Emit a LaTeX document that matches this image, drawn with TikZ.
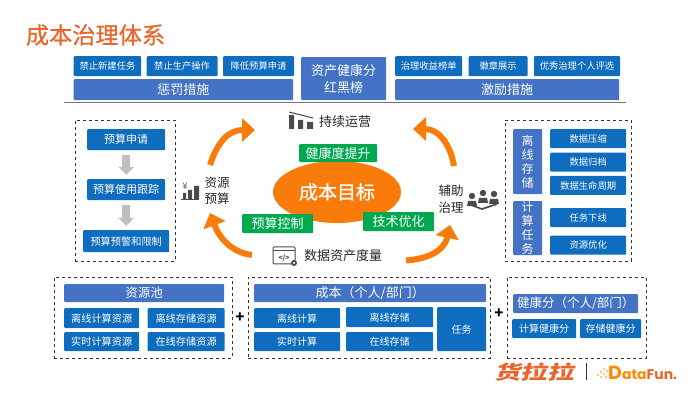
\documentclass[tikz,border=0pt]{standalone}
\usepackage{fontspec}
\setmainfont{Noto Sans CJK SC}
\newfontfamily\heavyfont[FakeBold=0.6]{Noto Sans CJK SC}
\newfontfamily\logofont[FakeSlant=0.25,FakeStretch=1.4]{Noto Sans CJK SC}
\newfontfamily\funfont{Poppins}
\usepackage{tikz}
\usetikzlibrary{shapes.geometric, arrows.meta, positioning}
\definecolor{chipblue}{HTML}{0F6DBF}
\definecolor{bandblue}{HTML}{4472C4}
\definecolor{taggreen}{HTML}{00A84F}
\definecolor{goalorange}{HTML}{F97C0A}
\definecolor{titleorange}{HTML}{E8652B}
\definecolor{icongrey}{HTML}{4A4A4A}

\begin{document}
\begin{tikzpicture}[
    x=1pt, y=-1pt,
    chip/.style={fill=chipblue, text=white, inner sep=0pt, rounded corners=1pt, align=center,
                 anchor=north west, minimum height=20pt, font=\fontsize{9.3}{11}\selectfont},
    band/.style={fill=bandblue, text=white, inner sep=0pt, rounded corners=1pt, align=center,
                 anchor=north west, minimum height=21pt, font=\fontsize{13}{17}\selectfont},
    tag/.style={fill=taggreen, text=white, inner sep=0pt, rounded corners=1pt, anchor=north west,
                minimum height=19pt, font=\fontsize{13}{15}\selectfont},
    frame/.style={draw=black!80, dashed, line width=0.8pt, inner sep=0pt, anchor=north west},
    caption/.style={inner sep=0pt, text=black!85, align=center, font=\fontsize{13}{17}\selectfont},
    plus/.style={inner sep=0pt, font=\fontsize{15}{15}\selectfont\bfseries},
    flow/.style={-{Triangle[width=15pt, length=8pt]}, line width=8pt, black!25, shorten >=4pt, shorten <=5pt},
    orbit/.style={-{Triangle[width=23pt, length=13pt]}, line width=6pt, goalorange}
]
    \useasboundingbox (0,0) rectangle (696,403);

    \node[inner sep=0pt, text=titleorange, font=\heavyfont\fontsize{23.2}{25}\selectfont] (title) at (95.5,35) {成本治理体系};

    % top row
    \node[chip, minimum width=67.5pt] (newtask) at (73.5,56) {禁止新建任务};
    \node[chip, right=5pt of newtask, minimum width=71pt] (halt) {禁止生产操作};
    \node[chip, right=5pt of halt, minimum width=71pt] (lower) {降低预算申请};
    \node[band, minimum width=219.5pt] (penalty) at (73.5,79) {惩罚措施};
    \node[band, minimum width=85pt, minimum height=43pt] (rank) at (301,57) {资产健康分\\红黑榜};
    \node[chip, minimum width=67pt] (gain) at (395,56) {治理收益榜单};
    \node[chip, right=6pt of gain, minimum width=59pt] (badge) {徽章展示};
    \node[chip, right=6pt of badge, minimum width=86pt] (star) {优秀治理个人评选};
    \node[band, minimum width=224pt] (reward) at (395,79) {激励措施};
    \draw[black!55, line width=1pt] (64,102.5) -- (626,102.5);

    % budget flow
    \node[frame, minimum width=100pt, minimum height=141pt] (budgetframe) at (75,120) {};
    \node[chip, minimum width=78pt, minimum height=21pt, font=\fontsize{11}{13}\selectfont] (apply) at (87,129) {预算申请};
    \node[chip, minimum width=78pt, minimum height=21pt, font=\fontsize{11}{13}\selectfont] (track) at (87,179) {预算使用跟踪};
    \node[chip, minimum width=86pt, minimum height=22pt, font=\fontsize{10.2}{12}\selectfont] (alert) at (83,230) {预算预警和限制};
    \draw[flow] (apply) -- (track);
    \draw[flow] (track) -- (alert);

    % governance target
    \node[ellipse, fill=goalorange, minimum width=128pt, minimum height=62pt, inner sep=0pt, text=white,
          font=\heavyfont\fontsize{19}{21}\selectfont] (goal) at (337,192) {成本目标};
    \node[tag, minimum width=78pt, minimum height=18pt] (health) at (299,144) {健康度提升};
    \node[tag, minimum width=71pt] (control) at (242,214) {预算控制};
    \node[tag, minimum width=71pt] (tech) at (363,212) {技术优化};
    \node[caption] (operate) at (345,122) {持续运营};
    \node[caption] (measure) at (343,256) {数据资产度量};
    \node[caption, font=\fontsize{12.5}{16.5}\selectfont] (resource) at (217,191) {资源\\预算};
    \node[caption, font=\fontsize{12.5}{16.5}\selectfont] (assist) at (451,199.5) {辅助\\治理};

    \coordinate (tlstart) at (210,165);
    \coordinate (tlend) at (255,130);
    \coordinate (blstart) at (252,255);
    \coordinate (blend) at (210,213);
    \coordinate (trstart) at (454,166);
    \coordinate (trend) at (413,129);
    \coordinate (brstart) at (406,260.5);
    \coordinate (brend) at (450,225);
    \draw[orbit] (tlstart) .. controls (217,143) and (228,130) .. (tlend);
    \draw[orbit] (blstart) .. controls (234,253) and (220,240) .. (blend);
    \draw[orbit] (trstart) .. controls (451,147) and (440,129) .. (trend);
    \draw[orbit] (brstart) .. controls (426,259) and (444,252) .. (brend);

    % little icons
    \fill[icongrey] (289,115) rectangle (294,129) (298,120) rectangle (303,129) (307,122) rectangle (313,129);
    \draw[icongrey, line width=1pt] (289,112) -- (313,118);

    \node[inner sep=0pt, text=icongrey, font=\fontsize{9}{9}\selectfont] (yen) at (185,186) {¥};
    \fill[icongrey] (183,193) rectangle (186,199) (188,190) rectangle (192,199) (194,186) rectangle (199,199);
    \draw[icongrey, line width=1pt] (181,200) -- (199,200);

    \draw[icongrey, line width=1pt, rounded corners=1pt] (273,247) rectangle (295,264);
    \draw[icongrey, line width=1pt] (273,251) -- (295,251);
    \node[inner sep=0pt, text=icongrey, font=\fontsize{7}{7}\selectfont\bfseries] (code) at (284,258) {</>};
    \fill[icongrey] (294,263) circle (3pt);
    \fill[white] (294,263) circle (1.2pt);

    \foreach \cx/\cy in {472/196, 483/193, 494/194} {
        \fill[icongrey] (\cx,\cy) circle (3.2pt);
        \fill[icongrey] (\cx-5,\cy+10) -- (\cx-4,\cy+5) -- (\cx+4,\cy+5) -- (\cx+5,\cy+10) -- cycle;
    }
    \draw[icongrey, line width=1.6pt] (468,204) -- (482,209) -- (497,204);

    % storage and compute
    \node[frame, minimum width=126pt, minimum height=141pt] (opsframe) at (505,120) {};
    \node[band, minimum width=29pt, minimum height=65pt, font=\fontsize{12}{14}\selectfont] (offline) at (513,129) {离\\线\\存\\储};
    \node[band, minimum width=29pt, minimum height=54pt, font=\fontsize{12}{14}\selectfont] (compute) at (513,201) {计\\算\\任\\务};
    \node[chip, minimum width=76pt, minimum height=19pt] (squeeze) at (550,129) {数据压缩};
    \node[chip, minimum width=76pt, minimum height=19pt, below=4pt of squeeze] (archive) {数据归档};
    \node[chip, minimum width=76pt, minimum height=19pt, below=4pt of archive] (lifecycle) {数据生命周期};
    \node[chip, minimum width=76pt, minimum height=19pt] (retire) at (550,208) {任务下线};
    \node[chip, minimum width=76pt, minimum height=19pt, below=8pt of retire] (tune) {资源优化};

    % bottom row
    \node[frame, minimum width=178pt, minimum height=81pt] (poolframe) at (54,277) {};
    \node[band, minimum width=160pt, minimum height=18pt, font=\fontsize{12.5}{15}\selectfont] (pool) at (64,284) {资源池};
    \node[chip, minimum width=75pt, font=\fontsize{10.2}{12}\selectfont] (pooloff) at (64,308) {离线计算资源};
    \node[chip, minimum width=77pt, font=\fontsize{10.2}{12}\selectfont, right=8pt of pooloff] (poolstore) {离线存储资源};
    \node[chip, minimum width=75pt, minimum height=19pt, font=\fontsize{10.2}{12}\selectfont] (poolreal) at (64,332) {实时计算资源};
    \node[chip, minimum width=77pt, minimum height=19pt, font=\fontsize{10.2}{12}\selectfont, right=8pt of poolreal] (poolonline) {在线存储资源};
    \node[plus] (plusa) at (240,318) {+};

    \node[frame, minimum width=242pt, minimum height=81pt] (costframe) at (248,277) {};
    \node[band, minimum width=232pt, minimum height=18pt] (cost) at (254,284) {成本（个人/部门）};
    \node[chip, minimum width=86pt, font=\fontsize{10}{12}\selectfont] (costoff) at (254,308) {离线计算};
    \node[chip, minimum width=86pt, minimum height=19pt, font=\fontsize{10}{12}\selectfont] (costreal) at (254,332) {实时计算};
    \node[chip, minimum width=87pt, font=\fontsize{10}{12}\selectfont] (coststore) at (346,307) {离线存储};
    \node[chip, minimum width=87pt, minimum height=19pt, font=\fontsize{10}{12}\selectfont] (costonline) at (346,332) {在线存储};
    \node[chip, minimum width=49pt, minimum height=44pt, font=\fontsize{10}{12}\selectfont] (costtask) at (437,307) {任务};
    \node[plus] (plusb) at (499,314) {+};

    \node[frame, minimum width=139pt, minimum height=81pt] (scoreframe) at (507,277) {};
    \node[band, minimum width=125pt, minimum height=19pt, font=\fontsize{12.5}{15}\selectfont] (score) at (513,294) {健康分（个人/部门）};
    \node[chip, minimum width=64pt, minimum height=19pt, font=\fontsize{10}{12}\selectfont] (scorecalc) at (512,319) {计算健康分};
    \node[chip, minimum width=61pt, minimum height=19pt, font=\fontsize{10}{12}\selectfont] (scorestore) at (580,319) {存储健康分};

    % logos
    \node[inner sep=0pt, text=titleorange, font=\logofont\fontsize{19}{20}\selectfont\bfseries] (huolala) at (534,372) {货拉拉};
    \draw[black!80, line width=0.8pt] (586.5,363) -- (586.5,380);
    \foreach \dx/\dy in {598/375, 601/372, 604/369, 601/377, 604/374, 607/371, 606/377} {
        \fill[orange!90!yellow] (\dx,\dy) circle (0.9pt);
    }
    \node[inner sep=0pt, anchor=west, font=\funfont\fontsize{14}{15}\selectfont\bfseries] (datafun) at (608,373)
        {\textcolor{orange!90!yellow}{\fontsize{19}{19}\selectfont D}\textcolor{orange!90!yellow}{ata}\textcolor{titleorange}{Fun.}};
\end{tikzpicture}
\end{document}
